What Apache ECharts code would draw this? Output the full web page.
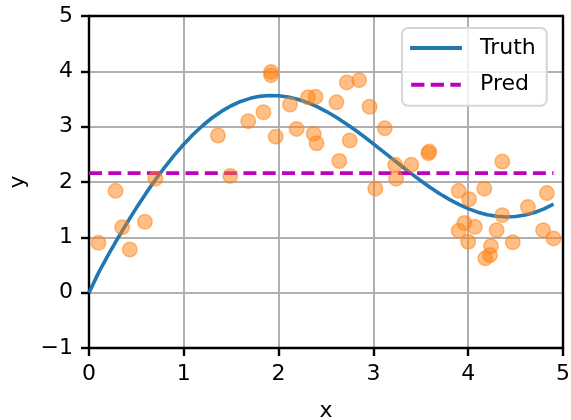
<!DOCTYPE html>
<html><head><meta charset="utf-8">
<script src="https://cdn.jsdelivr.net/npm/echarts@6/dist/echarts.min.js"></script>
<style>html,body{margin:0;padding:0;background:#fff}#c{width:571px;height:420px}</style>
</head><body><div id="c"></div>
<script>
// Truth curve, read at x = 0, 0.1, ..., 4.9
const truthX = [0,0.1,0.2,0.3,0.4,0.5,0.6,0.7,0.8,0.9,1.0,1.1,1.2,1.3,1.4,1.5,1.6,1.7,1.8,1.9,2.0,2.1,2.2,2.3,2.4,2.5,2.6,2.7,2.8,2.9,3.0,3.1,3.2,3.3,3.4,3.5,3.6,3.7,3.8,3.9,4.0,4.1,4.2,4.3,4.4,4.5,4.6,4.7,4.8,4.9];
const truthY = [0,0.358,0.673,0.973,1.259,1.533,1.794,2.040,2.271,2.486,2.683,2.862,3.021,3.161,3.280,3.378,3.456,3.512,3.548,3.564,3.560,3.537,3.496,3.439,3.366,3.278,3.179,3.068,2.949,2.823,2.690,2.555,2.419,2.284,2.151,2.023,1.901,1.788,1.686,1.595,1.518,1.455,1.409,1.380,1.368,1.376,1.403,1.449,1.515,1.601];
// Prediction (constant)
const predX = [0, 4.9];
const predY = [2.16, 2.16];
// Training samples
const trainX = [0.10,0.28,0.35,0.43,0.59,0.70,1.36,1.49,1.68,1.84,1.92,1.92,1.97,2.12,2.19,2.31,2.39,2.37,2.40,2.61,2.64,2.72,2.75,2.85,2.96,3.02,3.12,3.23,3.24,3.40,3.58,3.59,3.90,3.90,3.96,4.00,4.01,4.07,4.17,4.18,4.23,4.24,4.30,4.36,4.36,4.47,4.63,4.79,4.83,4.90];
const trainY = [0.90,1.84,1.18,0.78,1.28,2.06,2.84,2.11,3.10,3.26,3.99,3.93,2.82,3.40,2.96,3.53,3.54,2.87,2.70,3.44,2.38,3.80,2.75,3.84,3.36,1.88,2.97,2.31,2.06,2.31,2.52,2.55,1.84,1.12,1.26,0.92,1.69,1.19,1.88,0.62,0.68,0.84,1.13,2.37,1.40,0.91,1.55,1.13,1.80,0.98];
const xTicks = [0,1,2,3,4,5];
const yTicks = [-1,0,1,2,3,4,5];
const seriesNames = ['Truth','Pred'];

const zip = (a,b) => a.map((v,i)=>[v,b[i]]);
const FONT = 'DejaVu Sans';
const FS = 22;
const SPINE = {color:'#000', width:2.4};
const axisCommon = {
  type:'value', interval:1,
  axisLine:{show:true, onZero:false, lineStyle:SPINE},
  axisTick:{show:true, inside:false, length:8, lineStyle:SPINE},
  splitLine:{show:true, lineStyle:{color:'#b0b0b0', width:2}},
  axisLabel:{color:'#000', fontFamily:FONT, fontSize:FS, formatter:v=>String(v).replace('-','\u2212')},
  nameTextStyle:{color:'#000', fontFamily:FONT, fontSize:FS}
};
const spineAxis = (pos, ticks) => ({
  type:'value', position:pos, min:ticks[0], max:ticks[ticks.length-1], interval:1,
  axisLine:{show:true, onZero:false, lineStyle:SPINE},
  axisTick:{show:false}, axisLabel:{show:false}, splitLine:{show:false}
});
const chart = echarts.init(document.getElementById('c'), null, {renderer:'canvas'});
chart.setOption({
  animation:false,
  backgroundColor:'#fff',
  grid:{left:89, right:8, top:16, bottom:72, containLabel:false, outerBoundsMode:'none', show:false},
  xAxis:[
    Object.assign({}, axisCommon, {position:'bottom', min:xTicks[0], max:xTicks[xTicks.length-1], name:'x', nameLocation:'middle', nameGap:52,
      axisLabel:Object.assign({}, axisCommon.axisLabel, {margin:15})}),
    spineAxis('top', xTicks)
  ],
  yAxis:[
    Object.assign({}, axisCommon, {position:'left', min:yTicks[0], max:yTicks[yTicks.length-1], name:'y', nameLocation:'middle', nameGap:60, nameRotate:90,
      axisLabel:Object.assign({}, axisCommon.axisLabel, {margin:16})}),
    spineAxis('right', yTicks)
  ],
  legend:{
    orient:'vertical', left:402, top:28,
    data:[
      {name:seriesNames[0], icon:'rect'},
      {name:seriesNames[1], icon:'path://M0,0h13.3v4h-13.3z M19.6,0h13.3v4h-13.3z M39.2,0h10.5v4h-10.5z'}
    ],
    itemWidth:52, itemHeight:4, itemGap:14.7,
    padding:[9,11,10,8],
    backgroundColor:'rgba(255,255,255,0.8)', borderColor:'#d6d6d6', borderWidth:2, borderRadius:6,
    textStyle:{color:'#000', fontFamily:FONT, fontSize:FS, lineHeight:22, padding:[0,0,0,13]}
  },
  series:[
    {name:seriesNames[0], type:'line', data:zip(truthX,truthY), symbol:'none', showSymbol:false,
      lineStyle:{color:'#1f77b4', width:3.6}, itemStyle:{color:'#1f77b4'}, z:2},
    {name:seriesNames[1], type:'line', data:zip(predX,predY), symbol:'none', showSymbol:false,
      lineStyle:{color:'#bf00bf', width:3.6, type:[13,6.3]}, itemStyle:{color:'#bf00bf'}, z:2},
    {name:'train', type:'scatter', data:zip(trainX,trainY), symbolSize:14.5,
      itemStyle:{color:'rgba(255,127,14,0.5)', borderColor:'rgba(255,127,14,0.5)', borderWidth:1.5, opacity:1}, z:3}
  ]
});
</script></body></html>
